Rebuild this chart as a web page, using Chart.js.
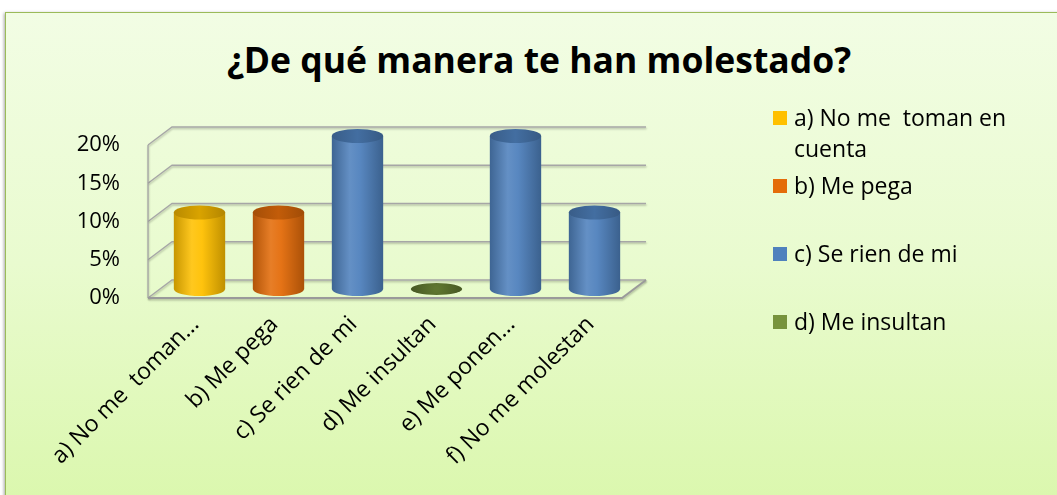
<!DOCTYPE html>
<html><head><meta charset="utf-8">
<script src="https://cdn.jsdelivr.net/npm/chart.js@4.4.1/dist/chart.umd.min.js"></script>
<style>
html,body{margin:0;padding:0;background:#fff;width:1057px;height:495px;overflow:hidden;}
#frame{position:absolute;left:5px;top:12px;width:1070px;height:500px;border:1.5px solid #9bbb59;
  background:linear-gradient(to bottom,#f2fde4 0%,#e9fbcf 50%,#daf7ac 100%);box-shadow:-1px 1px 3px rgba(0,0,0,0.35);}
#title{position:absolute;left:0;top:39px;width:1078px;text-align:center;font:bold 35.5px 'Open Sans', sans-serif;line-height:40px;color:#000;}
#chart{position:absolute;left:0;top:0;}
#legend{position:absolute;left:773px;top:102px;font:23px 'Open Sans', sans-serif;color:#000;}
.item{display:flex;align-items:flex-start;height:68px;}
.sw{width:14px;height:14px;margin-top:9px;margin-right:7px;flex:none;}
.txt{line-height:31px;width:245px;white-space:pre-wrap;}
</style></head>
<body>
<div id="frame"></div>
<div id="title"></div>
<canvas id="chart" width="1057" height="495"></canvas>
<div id="legend"></div>
<script>
const chartTitle = "¿De qué manera te han molestado?";
const categories = ["a) No me  toman en cuenta", "b) Me pega", "c) Se rien de mi", "d) Me insultan", "e) Me ponen apodos", "f) No me molestan"];
const tickLabels = ["a) No me  toman...", "b) Me pega", "c) Se rien de mi", "d) Me insultan", "e) Me ponen...", "f) No me molestan"];
const values = [0.10, 0.10, 0.20, 0.00, 0.20, 0.10];
const barColors = ["#ffc000", "#e46c0a", "#4f81bd", "#77933c", "#4f81bd", "#4f81bd"];
const legendCount = 4;
const yTicks = [0, 0.05, 0.10, 0.15, 0.20];

document.getElementById('title').textContent = chartTitle;
const lg = document.getElementById('legend');
categories.slice(0, legendCount).forEach((c, i) => {
  const it = document.createElement('div'); it.className = 'item';
  const sw = document.createElement('div'); sw.className = 'sw'; sw.style.background = barColors[i];
  const tx = document.createElement('div'); tx.className = 'txt'; tx.textContent = c;
  it.appendChild(sw); it.appendChild(tx); lg.appendChild(it);
});

function shade(hex, f) {
  const n = parseInt(hex.slice(1), 16);
  let r = (n >> 16) & 255, g = (n >> 8) & 255, b = n & 255;
  if (f < 0) { r *= 1 + f; g *= 1 + f; b *= 1 + f; }
  else { r += (255 - r) * f; g += (255 - g) * f; b += (255 - b) * f; }
  return `rgb(${Math.round(r)},${Math.round(g)},${Math.round(b)})`;
}
const DX = 12, DY = 9, RY = 7;
const BAR_PCT = 0.65;

function bodyGradient(ctx, x, w, col) {
  const g = ctx.createLinearGradient(x - w / 2, 0, x + w / 2, 0);
  g.addColorStop(0, shade(col, -0.22));
  g.addColorStop(0.35, shade(col, 0.12));
  g.addColorStop(0.55, shade(col, 0.05));
  g.addColorStop(1, shade(col, -0.25));
  return g;
}

const wallsPlugin = {
  id: 'walls',
  beforeDatasetsDraw(chart) {
    const { ctx, chartArea: a, scales: { y } } = chart;
    ctx.save();
    ctx.strokeStyle = '#a6a6a6';
    ctx.lineWidth = 1.3;
    ctx.shadowColor = 'rgba(0,0,0,0.25)';
    ctx.shadowOffsetY = 1.5; ctx.shadowOffsetX = 0.5; ctx.shadowBlur = 2;
    yTicks.forEach(v => {
      const py = y.getPixelForValue(v);
      ctx.beginPath();
      ctx.moveTo(a.left - DX, py + DY);
      ctx.lineTo(a.left + DX, py - DY);
      ctx.lineTo(a.right + DX, py - DY);
      ctx.stroke();
    });
    ctx.beginPath();
    ctx.moveTo(a.left - DX, y.getPixelForValue(yTicks[yTicks.length - 1]) + DY);
    ctx.lineTo(a.left - DX, a.bottom + DY);
    ctx.stroke();
    ctx.lineWidth = 2;
    ctx.strokeStyle = '#9a9a9a';
    ctx.beginPath();
    ctx.moveTo(a.left - DX, a.bottom + DY);
    ctx.lineTo(a.right - DX, a.bottom + DY);
    ctx.lineTo(a.right + DX, a.bottom - DY);
    ctx.stroke();
    ctx.restore();
  },
  afterDatasetsDraw(chart) {
    const { ctx } = chart;
    const meta = chart.getDatasetMeta(0);
    meta.data.forEach((el, i) => {
      const { x, y, base, width } = el.getProps(['x', 'y', 'base', 'width'], true);
      const col = barColors[i];
      ctx.save();
      if (values[i] === 0) {
        const g = ctx.createRadialGradient(x, base, 2, x, base, width / 2);
        g.addColorStop(0, shade(col, -0.2)); g.addColorStop(1, shade(col, -0.4));
        ctx.fillStyle = g;
        ctx.beginPath(); ctx.ellipse(x, base, width / 2, RY - 1, 0, 0, Math.PI * 2); ctx.fill();
      } else {
        ctx.fillStyle = bodyGradient(ctx, x, width, col);
        ctx.beginPath(); ctx.ellipse(x, base, width / 2, RY, 0, 0, Math.PI); ctx.fill();
        const tg = ctx.createLinearGradient(x - width / 2, 0, x + width / 2, 0);
        tg.addColorStop(0, shade(col, -0.28)); tg.addColorStop(0.5, shade(col, -0.15)); tg.addColorStop(1, shade(col, -0.3));
        ctx.fillStyle = tg;
        ctx.beginPath(); ctx.ellipse(x, y, width / 2, RY, 0, 0, Math.PI * 2); ctx.fill();
      }
      ctx.restore();
    });
  }
};

new Chart(document.getElementById('chart'), {
  type: 'bar',
  data: {
    labels: tickLabels,
    datasets: [{
      data: values,
      backgroundColor: (c) => {
        const chart = c.chart;
        if (c.type !== 'data' || !chart.chartArea) return barColors[c.dataIndex];
        const xs = chart.scales.x;
        const x = xs.getPixelForValue(c.dataIndex);
        const w = (chart.chartArea.width / values.length) * BAR_PCT;
        return bodyGradient(chart.ctx, x, w, barColors[c.dataIndex]);
      },
      borderWidth: 0,
      barPercentage: BAR_PCT,
      categoryPercentage: 1
    }]
  },
  options: {
    responsive: false,
    animation: false,
    devicePixelRatio: 1,
    layout: { padding: { left: 0, top: 136, right: 423, bottom: 0 } },
    plugins: { legend: { display: false }, title: { display: false }, tooltip: { enabled: false } },
    scales: {
      x: {
        grid: { display: false, drawTicks: false },
        border: { display: false },
        ticks: { autoSkip: false, minRotation: 45, maxRotation: 45, color: '#000', font: { family: 'Open Sans', size: 23 }, padding: 22, labelOffset: -4 },
        afterFit: (s) => { s.height = 206; }
      },
      y: {
        min: 0, max: 0.2,
        grid: { display: false, drawTicks: false },
        border: { display: false },
        ticks: { stepSize: 0.05, color: '#000', font: { family: 'Open Sans', size: 22 }, padding: 40, labelOffset: 9,
          callback: (v) => Math.round(v * 100) + '%' },
        afterFit: (s) => { s.width = 160; }
      }
    }
  },
  plugins: [wallsPlugin]
});
</script>
</body></html>
